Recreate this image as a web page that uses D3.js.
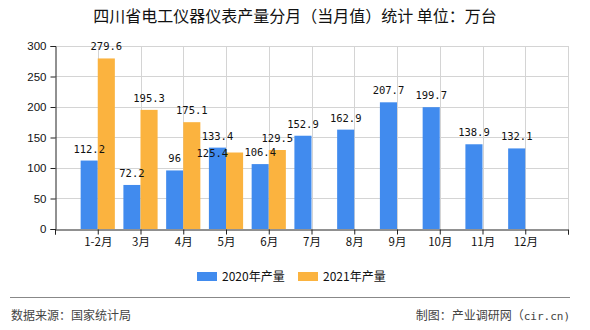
<!DOCTYPE html>
<html><head><meta charset="utf-8">
<script src="https://cdn.jsdelivr.net/npm/d3@7"></script>
<style>body{margin:0;background:#fff}svg{display:block}</style>
</head><body>
<svg id="c" width="590" height="330"></svg>
<script>
const categories = ["1-2月","3月","4月","5月","6月","7月","8月","9月","10月","11月","12月"];
const values2020 = [112.2,72.2,96,133.4,106.4,152.9,162.9,207.7,199.7,138.9,132.1];
const values2021 = [279.6,195.3,175.1,125.4,129.5];
const seriesNames = ["2020年产量","2021年产量"];
const yTicks = [0,50,100,150,200,250,300];
const titleText = "四川省电工仪器仪表产量分月（当月值）统计 单位：万台";

const colors = ["#418BEE","#FBB33F"];
const svg = d3.select("#c");
const m = {l:55, r:568, t:46, b:229};
const x = d3.scaleLinear().domain([0, categories.length+1]).range([m.l, m.r]);
const y = d3.scaleLinear().domain([0,300]).range([m.b, m.t]);
const step = x(1)-x(0);
const bw = step*0.4;
const grid = "#d4d4d4";

// title
svg.append("text").attr("x",295).attr("y",22).attr("text-anchor","middle")
  .attr("font-family","'Noto Sans CJK SC',sans-serif").attr("font-size",16).attr("fill","#111")
  .text(titleText);

// gridlines
const idx = d3.range(0, categories.length+2);
svg.append("g").selectAll("line").data(yTicks.filter(d=>d>0)).join("line")
  .attr("x1",m.l).attr("x2",m.r).attr("y1",d=>y(d)).attr("y2",d=>y(d))
  .attr("stroke",grid).attr("stroke-width",1).attr("shape-rendering","crispEdges");
svg.append("g").selectAll("line").data(idx.filter(d=>d>0)).join("line")
  .attr("x1",d=>Math.round(x(d))+0.5).attr("x2",d=>Math.round(x(d))+0.5).attr("y1",m.t).attr("y2",m.b)
  .attr("stroke",grid).attr("stroke-width",1);

// bars
const g = svg.append("g");
g.selectAll("rect.a").data(values2020).join("rect").attr("class","a")
  .attr("x",(d,i)=>x(i+1)-bw).attr("width",bw)
  .attr("y",d=>y(d)).attr("height",d=>y(0)-y(d)).attr("fill",colors[0]);
g.selectAll("rect.b").data(values2021).join("rect").attr("class","b")
  .attr("x",(d,i)=>x(i+1)).attr("width",bw)
  .attr("y",d=>y(d)).attr("height",d=>y(0)-y(d)).attr("fill",colors[1]);

// value labels
const lf = "'DejaVu Sans Mono','Liberation Mono',monospace";
g.selectAll("text.a").data(values2020).join("text").attr("class","a")
  .attr("x",(d,i)=>x(i+1)-bw/2).attr("y",d=>y(d)-8).attr("text-anchor","middle")
  .attr("font-family",lf).attr("font-size",10.5).attr("fill","#111").text(d=>d);
const clash = (d,i)=> Math.abs(y(d)-y(values2020[i]))<12 && d<values2020[i];
g.selectAll("text.b").data(values2021).join("text").attr("class","b")
  .attr("x",(d,i)=> clash(d,i) ? x(i+1)+bw/2-bw*1.3 : x(i+1)+bw/2)
  .attr("y",(d,i)=> clash(d,i) ? y(d)+4 : y(d)-8)
  .attr("text-anchor","middle")
  .attr("font-family",lf).attr("font-size",10.5).attr("fill","#111").text(d=>d);

// axes
const af = "'Liberation Sans',sans-serif";
const yAxis = svg.append("g").attr("transform",`translate(${m.l+0.5},0)`)
  .call(d3.axisLeft(y).tickValues(yTicks).tickSize(5).tickPadding(4));
yAxis.select(".domain").attr("stroke","#222");
yAxis.selectAll(".tick line").attr("stroke","#222");
yAxis.selectAll("text").attr("font-family",af).attr("font-size",11.5).attr("fill","#111");

const xAxis = svg.append("g").attr("transform",`translate(0,${m.b+0.5})`)
  .call(d3.axisBottom(x).tickValues(idx).tickSize(5).tickPadding(3)
    .tickFormat(d=> (d>=1 && d<=categories.length) ? categories[d-1] : ""));
xAxis.select(".domain").attr("stroke","#222");
xAxis.selectAll(".tick line").attr("stroke","#222");
xAxis.selectAll("text").attr("font-family","'Noto Sans CJK SC',sans-serif").attr("font-size",11.5).attr("fill","#111");

// legend
const lg = svg.append("g");
const lx = [197, 298];
seriesNames.forEach((n,i)=>{
  lg.append("rect").attr("x",lx[i]).attr("y",272).attr("width",20).attr("height",9).attr("fill",colors[i]);
  lg.append("text").attr("x",lx[i]+25).attr("y",281).attr("font-family","'Noto Sans CJK SC',sans-serif")
    .attr("font-size",12).attr("fill","#111").text(n);
});

// footer
svg.append("line").attr("x1",10).attr("x2",570).attr("y1",297.5).attr("y2",297.5).attr("stroke","#888").attr("stroke-width",1);
svg.append("text").attr("x",11).attr("y",320).attr("font-family","'Noto Sans CJK SC',sans-serif")
  .attr("font-size",12).attr("fill","#444").text("数据来源：国家统计局");
const ft = svg.append("text").attr("x",570).attr("y",320).attr("text-anchor","end")
  .attr("font-family","'Noto Sans CJK SC',sans-serif").attr("font-size",12).attr("fill","#444");
ft.append("tspan").text("制图：产业调研网（");
ft.append("tspan").attr("font-family",lf).attr("font-size",11).text("cir.cn)");
</script>
</body></html>
